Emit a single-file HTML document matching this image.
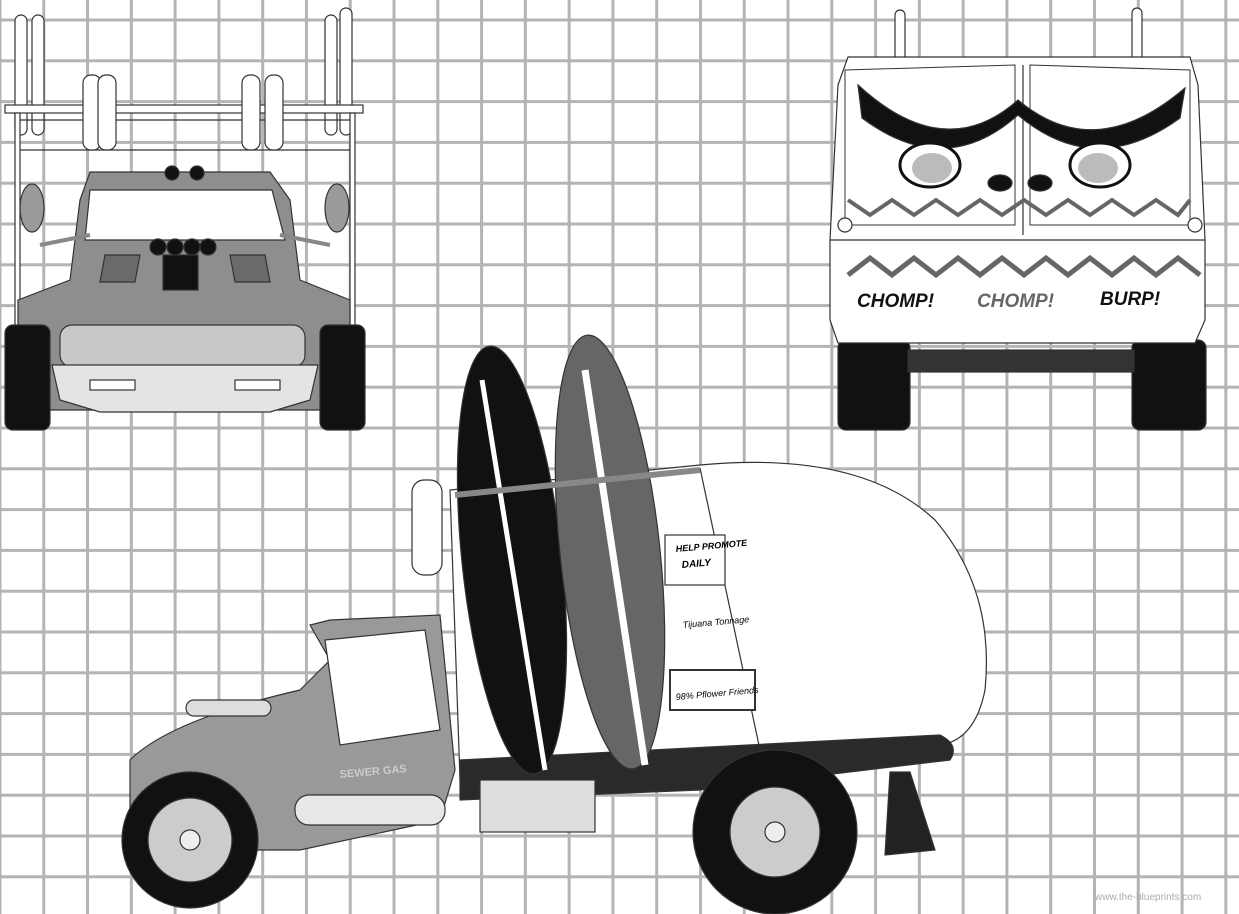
<!DOCTYPE html>
<html><head><meta charset="utf-8"><style>
html,body{margin:0;padding:0;background:#fff;}
svg{display:block}
</style></head><body>
<svg width="1239" height="914" viewBox="0 0 1239 914" xmlns="http://www.w3.org/2000/svg" font-family="Liberation Sans, sans-serif">
<defs>
<pattern id="g" x="-1.5" y="-22.3" width="43.78" height="40.8" patternUnits="userSpaceOnUse">
<rect x="0" y="0" width="3" height="40.8" fill="#b4b4b4"/>
<rect x="0" y="0" width="43.78" height="3" fill="#b4b4b4"/>
</pattern>
</defs>
<rect width="1239" height="914" fill="#fff"/>
<rect width="1239" height="914" fill="url(#g)"/>

<!-- FRONT VIEW (top left) -->
<g stroke="#333" stroke-width="1.2">
<rect x="15" y="15" width="12" height="120" rx="6" fill="#fff"/>
<rect x="32" y="15" width="12" height="120" rx="6" fill="#fff"/>
<rect x="325" y="15" width="12" height="120" rx="6" fill="#fff"/>
<rect x="340" y="8" width="12" height="127" rx="6" fill="#fff"/>
<rect x="5" y="105" width="358" height="8" fill="#fff"/>
<rect x="15" y="113" width="5" height="215" fill="#fff"/>
<rect x="350" y="113" width="5" height="215" fill="#fff"/>
<line x1="20" y1="150" x2="350" y2="150"/>
<line x1="20" y1="120" x2="350" y2="120"/>
<rect x="83" y="75" width="18" height="75" rx="8" fill="#fff"/>
<rect x="242" y="75" width="18" height="75" rx="8" fill="#fff"/>
<rect x="265" y="75" width="18" height="75" rx="8" fill="#fff"/>
<rect x="98" y="75" width="18" height="75" rx="8" fill="#fff"/>
<path d="M90 172 L270 172 L290 200 L300 280 L350 300 L350 380 L320 410 L50 410 L18 380 L18 300 L70 280 L80 200 Z" fill="#8e8e8e"/>
<path d="M90 190 L272 190 L285 240 L85 240 Z" fill="#fff"/>
<rect x="60" y="325" width="245" height="42" rx="12" fill="#c8c8c8"/>
<path d="M52 365 L318 365 L310 400 L270 412 L100 412 L60 400 Z" fill="#e4e4e4"/>
<rect x="5" y="325" width="45" height="105" rx="8" fill="#111"/>
<rect x="320" y="325" width="45" height="105" rx="8" fill="#111"/>
<line x1="40" y1="245" x2="90" y2="235" stroke-width="4" stroke="#888"/>
<line x1="330" y1="245" x2="280" y2="235" stroke-width="4" stroke="#888"/>
<ellipse cx="32" cy="208" rx="12" ry="24" fill="#9a9a9a"/>
<ellipse cx="337" cy="208" rx="12" ry="24" fill="#9a9a9a"/>
<rect x="163" y="255" width="35" height="35" fill="#111"/>
<circle cx="158" cy="247" r="8" fill="#111"/><circle cx="175" cy="247" r="8" fill="#111"/><circle cx="192" cy="247" r="8" fill="#111"/><circle cx="208" cy="247" r="8" fill="#111"/>
<circle cx="172" cy="173" r="7" fill="#111"/><circle cx="197" cy="173" r="7" fill="#111"/>
<path d="M105 255 L140 255 L135 282 L100 282 Z" fill="#6a6a6a"/>
<path d="M230 255 L265 255 L270 282 L235 282 Z" fill="#6a6a6a"/>
<rect x="90" y="380" width="45" height="10" fill="#fff"/><rect x="235" y="380" width="45" height="10" fill="#fff"/>
</g>

<!-- REAR VIEW (top right) -->
<g stroke="#333" stroke-width="1.2">
<rect x="895" y="10" width="10" height="50" rx="5" fill="#fff"/>
<rect x="1132" y="8" width="10" height="52" rx="5" fill="#fff"/>
<rect x="838" y="340" width="72" height="90" rx="8" fill="#111"/>
<rect x="1132" y="340" width="74" height="90" rx="8" fill="#111"/>
<rect x="908" y="350" width="226" height="22" fill="#333"/>
<path d="M848 57 L1190 57 L1198 85 L1205 240 L1205 320 L1195 343 L838 343 L830 320 L830 240 L838 85 Z" fill="#fff"/>
<path d="M845 70 L1015 65 L1015 225 L845 225 Z" fill="none" stroke-width="1"/>
<path d="M1030 65 L1190 70 L1190 225 L1030 225 Z" fill="none" stroke-width="1"/>
<line x1="830" y1="240" x2="1205" y2="240"/>
<line x1="1023" y1="65" x2="1023" y2="235"/>
<path d="M858 85 Q945 165 1018 100 Q1095 165 1185 88 L1180 118 Q1095 180 1018 115 Q945 180 862 118 Z" fill="#111"/>
<ellipse cx="930" cy="165" rx="30" ry="22" fill="#fff" stroke="#111" stroke-width="3"/>
<ellipse cx="1100" cy="165" rx="30" ry="22" fill="#fff" stroke="#111" stroke-width="3"/>
<ellipse cx="932" cy="168" rx="20" ry="15" fill="#bbb" stroke="none"/>
<ellipse cx="1098" cy="168" rx="20" ry="15" fill="#bbb" stroke="none"/>
<ellipse cx="1000" cy="183" rx="12" ry="8" fill="#111"/>
<ellipse cx="1040" cy="183" rx="12" ry="8" fill="#111"/>
<circle cx="845" cy="225" r="7" fill="#fff"/><circle cx="1195" cy="225" r="7" fill="#fff"/>
</g>
<polyline points="848,200 870,215 892,200 914,215 936,200 958,215 980,200 1002,215 1024,200 1046,215 1068,200 1090,215 1112,200 1134,215 1156,200 1178,215 1190,200" fill="none" stroke="#666" stroke-width="4"/>
<polyline points="848,275 870,258 892,275 914,258 936,275 958,258 980,275 1002,258 1024,275 1046,258 1068,275 1090,258 1112,275 1134,258 1156,275 1178,258 1200,275" fill="none" stroke="#666" stroke-width="5"/>
<text x="857" y="307" font-size="19" font-weight="bold" font-style="italic" fill="#111">CHOMP!</text>
<text x="977" y="307" font-size="19" font-weight="bold" font-style="italic" fill="#666">CHOMP!</text>
<text x="1100" y="305" font-size="19" font-weight="bold" font-style="italic" fill="#111">BURP!</text>

<!-- SIDE VIEW -->
<g stroke="#333" stroke-width="1.2">
<path d="M450 490 L700 465 Q860 450 935 520 Q995 590 985 690 Q975 740 940 745 L460 780 Z" fill="#fff"/>
<path d="M700 468 L760 750" fill="none"/>
<path d="M460 760 L940 735 Q960 745 950 760 L700 790 L460 800 Z" fill="#2a2a2a"/>
<rect x="412" y="480" width="30" height="95" rx="12" fill="#fff"/>
<ellipse cx="512" cy="560" rx="50" ry="215" transform="rotate(-6 512 560)" fill="#111"/>
<line x1="482" y1="380" x2="545" y2="770" stroke="#fff" stroke-width="5"/>
<ellipse cx="610" cy="552" rx="50" ry="218" transform="rotate(-6 610 552)" fill="#666"/>
<line x1="585" y1="370" x2="645" y2="765" stroke="#fff" stroke-width="7"/>
<line x1="455" y1="495" x2="700" y2="470" stroke-width="6" stroke="#888"/>
<rect x="665" y="535" width="60" height="50" fill="#fff"/>
<rect x="670" y="670" width="85" height="40" fill="#fff" stroke-width="2"/>
<rect x="480" y="780" width="115" height="52" fill="#ddd"/>
<path d="M130 760 Q170 720 300 690 L330 660 L310 625 L330 620 L440 615 L455 770 L440 820 L300 850 L130 850 Z" fill="#999"/>
<path d="M325 640 L425 630 L440 730 L340 745 Z" fill="#fff"/>
<rect x="186" y="700" width="85" height="16" rx="8" fill="#ddd"/>
<rect x="295" y="795" width="150" height="30" rx="14" fill="#e8e8e8"/>
<circle cx="190" cy="840" r="68" fill="#111"/>
<circle cx="190" cy="840" r="42" fill="#ccc"/>
<circle cx="190" cy="840" r="10" fill="#eee"/>
<circle cx="775" cy="832" r="82" fill="#111"/>
<circle cx="775" cy="832" r="45" fill="#ccc"/>
<circle cx="775" cy="832" r="10" fill="#eee"/>
<path d="M890 772 L910 772 L935 850 L885 855 Z" fill="#222"/>
</g>
<text x="676" y="552" font-size="9" font-weight="bold" font-style="italic" transform="rotate(-5 676 552)">HELP PROMOTE</text>
<text x="682" y="568" font-size="10" font-weight="bold" font-style="italic" transform="rotate(-5 682 568)">DAILY</text>
<text x="683" y="628" font-size="9" font-style="italic" transform="rotate(-5 683 628)">Tijuana Tonnage</text>
<text x="676" y="700" font-size="9" font-style="italic" transform="rotate(-5 676 700)">98% Pflower Friends</text>
<text x="340" y="778" font-size="11" font-weight="bold" fill="#ccc" transform="rotate(-5 340 778)">SEWER GAS</text>
<text x="1095" y="900" font-size="10" fill="#aaa">www.the-blueprints.com</text>
</svg>
</body></html>
